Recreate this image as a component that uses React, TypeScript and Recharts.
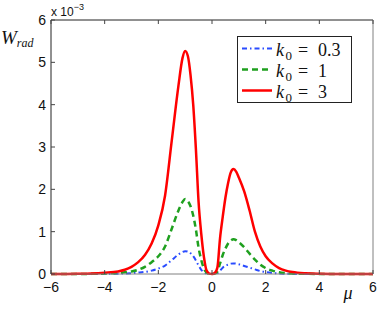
import { Label, Legend, Line, LineChart, XAxis, YAxis } from 'recharts';

// mu grid and W_rad values (x 1e-3)
const mu = [
	-6, -5.5, -5, -4.5, -4, -3.5, -3.25, -3, -2.75, -2.5, -2.25, -2, -1.75, -1.5, -1.25, -1.1, -1, -0.9,
	-0.8, -0.7, -0.6, -0.5, -0.4, -0.3, -0.2, -0.1, 0, 0.1, 0.2, 0.3, 0.4, 0.5, 0.6, 0.7, 0.8, 0.9, 1.0,
	1.2, 1.4, 1.6, 1.8, 2.0, 2.25, 2.5, 2.75, 3, 3.5, 4, 4.5, 5, 5.5, 6,
];
const k03 = [
	0, 0, 0, 0.001, 0.003, 0.008, 0.013, 0.02, 0.033, 0.05, 0.08, 0.13, 0.2, 0.33, 0.46, 0.52, 0.54, 0.53,
	0.49, 0.42, 0.32, 0.2, 0.1, 0.04, 0.01, 0.002, 0, 0.003, 0.02, 0.08, 0.15, 0.2, 0.22, 0.245, 0.25, 0.245,
	0.23, 0.19, 0.15, 0.11, 0.07, 0.045, 0.025, 0.013, 0.007, 0.003, 0.001, 0, 0, 0, 0, 0,
];
const k1 = [
	0, 0, 0.001, 0.003, 0.01, 0.025, 0.04, 0.06, 0.1, 0.17, 0.28, 0.42, 0.65, 1.07, 1.5, 1.7, 1.77, 1.72,
	1.6, 1.38, 1.05, 0.62, 0.33, 0.13, 0.03, 0.005, 0, 0.01, 0.06, 0.25, 0.45, 0.6, 0.72, 0.79, 0.82, 0.8,
	0.75, 0.63, 0.48, 0.34, 0.22, 0.14, 0.08, 0.04, 0.02, 0.01, 0.004, 0.001, 0, 0, 0, 0,
];
const k3 = [
	0, 0.002, 0.005, 0.012, 0.03, 0.06, 0.1, 0.17, 0.28, 0.45, 0.72, 1.15, 1.85, 3.15, 4.45, 5.1, 5.27, 5.15,
	4.7, 4.0, 2.95, 1.7, 0.95, 0.4, 0.08, 0.01, 0, 0.02, 0.15, 0.85, 1.35, 1.8, 2.15, 2.4, 2.48, 2.42,
	2.28, 1.95, 1.5, 1.0, 0.65, 0.42, 0.25, 0.14, 0.08, 0.045, 0.015, 0.005, 0.002, 0.001, 0, 0,
];

const xTicks = [-6, -4, -2, 0, 2, 4, 6];
const yTicks = [0, 1, 2, 3, 4, 5, 6];
const kLabels = ['0.3', '1', '3'];

const data = mu.map((m, i) => ({ mu: m, k03: k03[i], k1: k1[i], k3: k3[i] }));

const tickFont = 'Liberation Sans, Arial, sans-serif';
const mathFont = 'Liberation Serif, Times New Roman, serif';
const fmt = (v: number) => (v < 0 ? '\u2212' + Math.abs(v) : String(v));

const BottomTick = ({ x, y, payload }: any) => (
	<g>
		<line x1={x} x2={x} y1={y} y2={y - 4} stroke='#444' />
		<text x={x} y={y + 18} textAnchor='middle' fontSize={14} fontFamily={tickFont} fill='#111'>
			{fmt(payload.value)}
		</text>
	</g>
);
const TopTick = ({ x, y }: any) => <line x1={x} x2={x} y1={y} y2={y + 4} stroke='#444' />;
const LeftTick = ({ x, y, payload }: any) => (
	<g>
		<line x1={x} x2={x + 4} y1={y} y2={y} stroke='#444' />
		<text x={x - 5} y={y + 5} textAnchor='end' fontSize={14} fontFamily={tickFont} fill='#111'>
			{payload.value}
		</text>
	</g>
);
const RightTick = ({ x, y }: any) => <line x1={x} x2={x - 4} y1={y} y2={y} stroke='#444' />;

const legendStyles = [
	{ color: '#2a4cff', dash: '5 3 1.5 3', width: 2 },
	{ color: '#1fa01f', dash: '6 4', width: 2.5 },
	{ color: '#ff0000', dash: undefined, width: 2.5 },
];

const LegendBox = () => (
	<svg width={116} height={67} style={{ display: 'block' }}>
		<rect x={0.5} y={0.5} width={114} height={66} fill='#fff' stroke='#222' />
		{kLabels.map((k, i) => {
			const cy = 12.5 + i * 21;
			const s = legendStyles[i];
			return (
				<g key={k}>
					<line x1={5} x2={35} y1={cy} y2={cy} stroke={s.color} strokeWidth={s.width} strokeDasharray={s.dash} />
					<text y={cy + 7} fontFamily={mathFont} fontSize={18} fill='#111'>
						<tspan x={39} fontStyle='italic'>k</tspan>
						<tspan x={48.5} dy={4} fontSize={13}>0</tspan>
						<tspan x={61} dy={-4}>=</tspan>
						<tspan x={81}>{k}</tspan>
					</text>
				</g>
			);
		})}
	</svg>
);

const App = () => (
	<div style={{ position: 'absolute', left: 0, top: 0, background: '#fff' }}>
		<LineChart width={388} height={313} data={data} margin={{ top: 19, right: 14, left: 0, bottom: 0 }}>
			<XAxis
				dataKey='mu'
				type='number'
				domain={[-6, 6]}
				ticks={xTicks}
				height={39}
				tickSize={0}
				tickMargin={0}
				tickLine={false}
				tick={<BottomTick />}
				stroke='#808080'
				interval={0}
			>
				<Label
					content={() => (
						<text x={348} y={299} textAnchor='middle' fontFamily={mathFont} fontStyle='italic' fontSize={18} fill='#111'>
							μ
						</text>
					)}
				/>
			</XAxis>
			<XAxis
				xAxisId='top'
				orientation='top'
				dataKey='mu'
				type='number'
				domain={[-6, 6]}
				ticks={xTicks}
				height={1}
				tickSize={0}
				tickMargin={0}
				tickLine={false}
				tick={<TopTick />}
				stroke='#222'
				interval={0}
			/>
			<YAxis
				type='number'
				domain={[0, 6]}
				ticks={yTicks}
				width={51}
				tickSize={0}
				tickMargin={0}
				tickLine={false}
				tick={<LeftTick />}
				stroke='#222'
				interval={0}
			>
				<Label
					content={() => (
						<text x={1} y={44} fontFamily={mathFont} fontStyle='italic' fill='#111'>
							<tspan fontSize={19}>W</tspan>
							<tspan dy={3} fontSize={12}>rad</tspan>
						</text>
					)}
				/>
				<Label
					content={() => (
						<text x={51} y={16} fontFamily={tickFont} fontSize={12} fill='#111'>
							<tspan>x 10</tspan>
							<tspan dy={-6} fontSize={9}>−3</tspan>
						</text>
					)}
				/>
			</YAxis>
			<YAxis
				yAxisId='right'
				orientation='right'
				type='number'
				domain={[0, 6]}
				ticks={yTicks}
				width={1}
				tickSize={0}
				tickMargin={0}
				tickLine={false}
				tick={<RightTick />}
				stroke='#808080'
				interval={0}
			/>
			<Legend
				layout='vertical'
				align='center'
				verticalAlign='middle'
				content={() => <LegendBox />}
				wrapperStyle={{ left: 237, top: 36, width: 116, height: 67 }}
			/>
			<Line
				dataKey='k03'
				name={`k0 = ${kLabels[0]}`}
				type='monotone'
				stroke='#2a4cff'
				strokeWidth={2}
				strokeDasharray='5 3 1.5 3'
				dot={false}
				isAnimationActive={false}
			/>
			<Line
				dataKey='k1'
				name={`k0 = ${kLabels[1]}`}
				type='monotone'
				stroke='#1fa01f'
				strokeWidth={2.5}
				strokeDasharray='6 4'
				dot={false}
				isAnimationActive={false}
			/>
			<Line
				dataKey='k3'
				name={`k0 = ${kLabels[2]}`}
				type='monotone'
				stroke='#ff0000'
				strokeWidth={2.5}
				dot={false}
				isAnimationActive={false}
			/>
		</LineChart>
	</div>
);

export default App;
